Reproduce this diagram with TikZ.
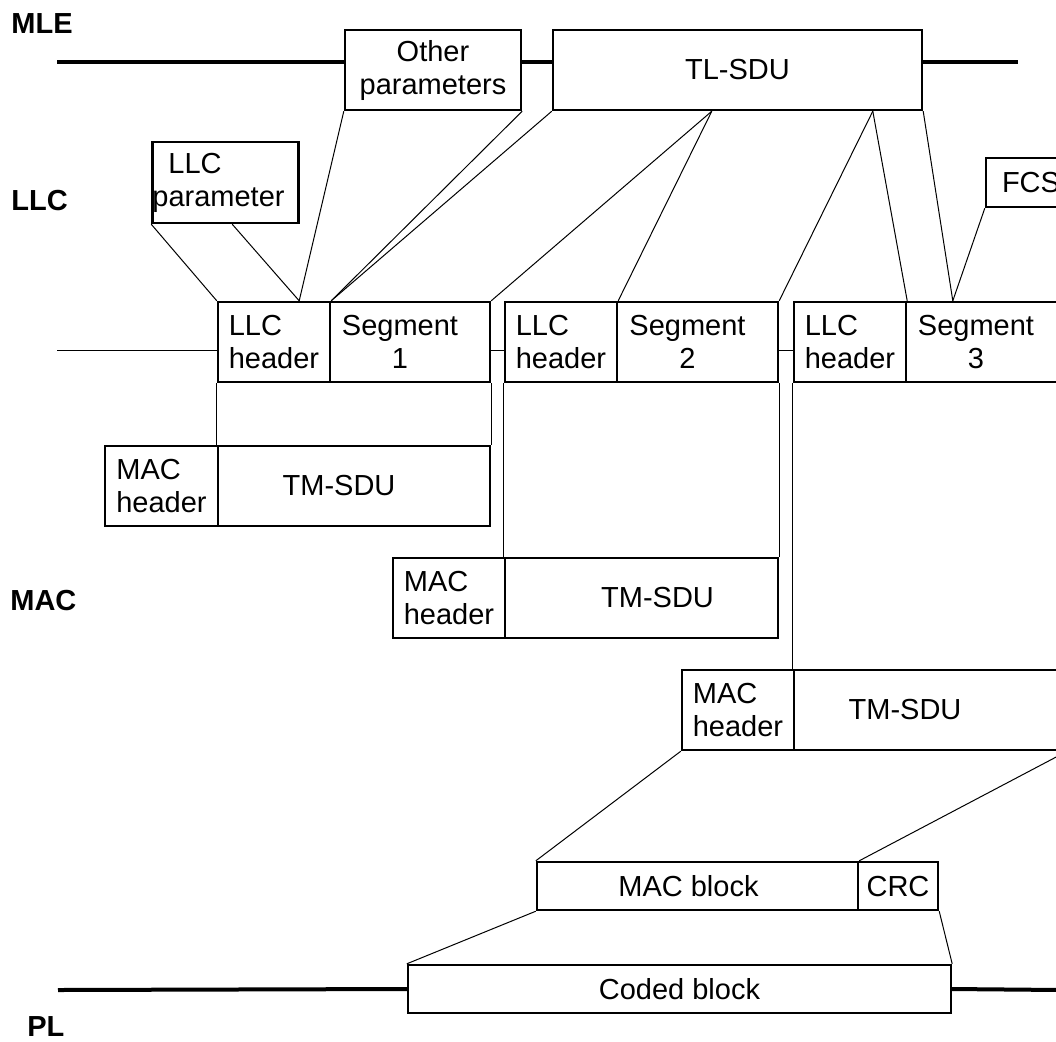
\documentclass[tikz,border=0pt]{standalone}
\usepackage{fontspec}
\setmainfont{Liberation Sans}
\usetikzlibrary{calc}
\tikzset{
  blk/.style = {draw, rectangle, line width=1.2pt, inner sep=0pt, align=center,
                font=\fontsize{14.5}{16.5}\selectfont, minimum height=40pt},
  hdr/.style = {blk, align=left, minimum width=56pt},
  lyr/.style = {font=\fontsize{14.5}{16.5}\selectfont\bfseries, anchor=base west,
                inner sep=0pt},
  bus/.style = {line width=2pt},
  ln/.style  = {line width=0.5pt},
}
\begin{document}
\begin{tikzpicture}[x=0.5pt, y=-0.5pt]
  \useasboundingbox (0,0) rectangle (1056,1041);
  \clip (0,0) rectangle (1056,1041);
  % layer names
  \node[lyr] (mle) at (11,33)   {MLE};
  \node[lyr] (llc) at (11,210)  {LLC};
  \node[lyr] (mac) at (10,610)  {MAC};
  \node[lyr] (pl)  at (27,1036) {PL};
  % MLE
  \node[blk, minimum width=88pt]    (other) at (433,70)   {Other\\parameters};
  \node[blk, minimum width=184.5pt] (tlsdu) at (737.5,70) {TL-SDU};
  % LLC
  \node[blk, align=left, minimum width=72.5pt, minimum height=40.5pt] (llcpar) at (225.5,182.5)
       {\hspace*{8pt}LLC\\parameter\hspace*{7pt}};
  \node[blk, minimum width=45pt, minimum height=24.5pt] (fcs) at (1031,182.5) {FCS};
  \node[hdr] (llch1) at (274,342) {LLC\\header};
  \node[blk, minimum width=80pt]   (seg1) at (410,342)   {Segment\hspace*{10pt}\\1\hspace*{10pt}};
  \node[hdr] (llch2) at (561,342) {LLC\\header};
  \node[blk, minimum width=80.5pt] (seg2) at (697.5,342) {Segment\hspace*{10pt}\\2\hspace*{10pt}};
  \node[hdr] (llch3) at (850,342) {LLC\\header};
  \node[blk, minimum width=80pt]   (seg3) at (986,342)   {Segment\hspace*{10pt}\\3\hspace*{10pt}};
  % MAC
  \node[hdr, minimum width=56.5pt] (mach1) at (161.5,486) {MAC\\header};
  \node[blk, minimum width=136pt]  (tmsdu1) at (354,486)  {TM-SDU\hspace*{15pt}};
  \node[hdr] (mach2) at (449,598) {MAC\\header};
  \node[blk, minimum width=136.5pt] (tmsdu2) at (641.5,598) {\hspace*{16pt}TM-SDU};
  \node[hdr] (mach3) at (738,710) {MAC\\header};
  \node[blk, minimum width=136pt]  (tmsdu3) at (930,710)  {TM-SDU\hspace*{25pt}};
  \node[blk, minimum width=160.5pt, minimum height=24pt] (macblk) at (697.5,886) {MAC block\hspace*{9pt}};
  \node[blk, minimum width=40pt, minimum height=24pt]    (crc)    at (898,886)   {CRC};
  % PL
  \node[blk, minimum width=271.5pt, minimum height=24pt] (coded) at (679.5,989) {Coded block};
  % free ends and tap points
  \coordinate (mleL)  at (57,62);
  \coordinate (mleR)  at (1018,62);
  \coordinate (laneL) at (57,350);
  \coordinate (plL)   at (58,990);
  \coordinate (plR)   at (1060,990);
  \coordinate (tA) at ($(tlsdu.south west)+(160,0)$);
  \coordinate (tB) at ($(tlsdu.south west)+(321,0)$);
  \coordinate (pB) at ($(llcpar.south west)+(81,0)$);
  \coordinate (h1) at ($(llch1.north east)+(-32,0)$);
  \coordinate (s3) at ($(seg3.north west)+(48,0)$);
  % layer lines
  \draw[bus] (mleL) -- (mleL -| other.west);
  \draw[bus] (mleL -| other.east) -- (mleL -| tlsdu.west);
  \draw[bus] (mleL -| tlsdu.east) -- (mleR);
  \draw[ln] (laneL) -- (laneL -| llch1.west);
  \draw[ln] (laneL -| seg1.east) -- (laneL -| llch2.west);
  \draw[ln] (laneL -| seg2.east) -- (laneL -| llch3.west);
  \draw[bus] (plL) -- (coded.west);
  \draw[bus] (coded.east) -- (plR);
  % MLE to LLC
  \draw[ln] (llcpar.south west) -- (llch1.north west);
  \draw[ln] (pB) -- (h1);
  \draw[ln] (other.south west) -- (h1);
  \draw[ln] (other.south east) -- (llch1.north east);
  \draw[ln] (tlsdu.south west) -- (llch1.north east);
  \draw[ln] (tA) -- (seg1.north east);
  \draw[ln] (tA) -- (llch2.north east);
  \draw[ln] (tB) -- (seg2.north east);
  \draw[ln] (tB) -- (llch3.north east);
  \draw[ln] (tlsdu.south east) -- (s3);
  \draw[ln] (fcs.south west) -- (s3);
  % LLC to MAC
  \draw[ln] (llch1.south west) -- (tmsdu1.north west);
  \draw[ln] (seg1.south east) -- (tmsdu1.north east);
  \draw[ln] (llch2.south west) -- (tmsdu2.north west);
  \draw[ln] (seg2.south east) -- (tmsdu2.north east);
  \draw[ln] (llch3.south west) -- (tmsdu3.north west);
  % MAC to PL
  \draw[ln] (mach3.south west) -- (macblk.north west);
  \draw[ln] (tmsdu3.south east) -- (macblk.north east);
  \draw[ln] (macblk.south west) -- (coded.north west);
  \draw[ln] (crc.south east) -- (coded.north east);
\end{tikzpicture}
\end{document}
